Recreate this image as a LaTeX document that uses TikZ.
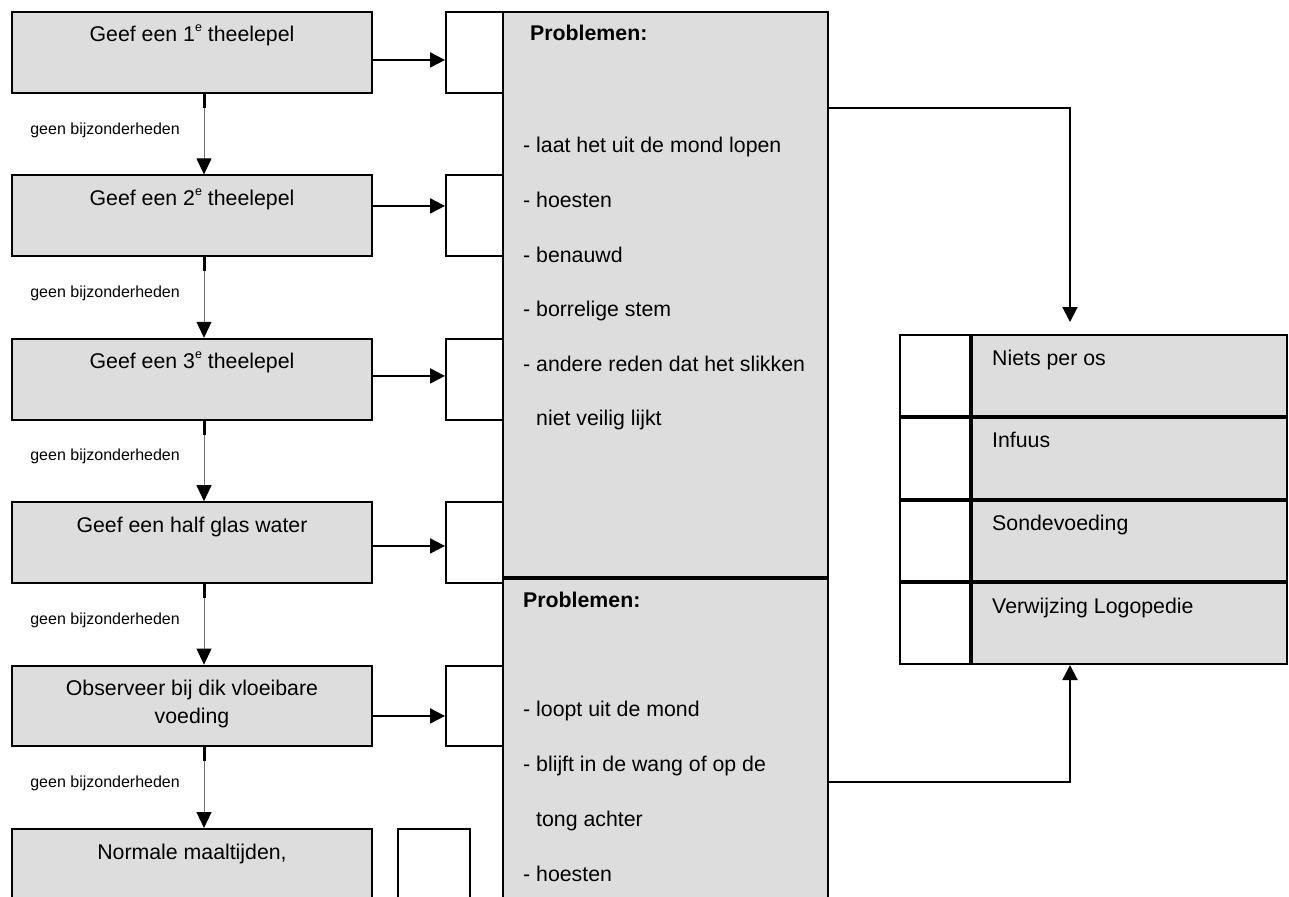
\documentclass[tikz,border=0pt]{standalone}
\usepackage{fontspec}
\setmainfont{Liberation Sans}
\usetikzlibrary{positioning,calc,arrows.meta}
\definecolor{vakgrijs}{RGB}{221,221,221}
\newcommand{\ste}{\raisebox{10pt}{\fontsize{12.5}{12}\selectfont e}}
\tikzstyle{stap} = [draw, line width=2pt, fill=vakgrijs, anchor=north west, inner sep=0pt, minimum width=360pt, minimum height=80.7pt]
\tikzstyle{vak} = [draw, line width=2pt, fill=white, inner sep=0pt, minimum width=59pt, minimum height=80.7pt]
\tikzstyle{probl} = [draw, line width=2pt, fill=vakgrijs, anchor=north west, inner sep=0pt, minimum width=325pt]
\tikzstyle{cel} = [draw, line width=2pt, fill=white, anchor=north west, inner sep=0pt, minimum width=70pt, minimum height=80.75pt]
\tikzstyle{optie} = [draw, line width=2pt, fill=vakgrijs, inner sep=0pt, minimum width=315pt, minimum height=80.75pt]
\tikzstyle{tekst} = [inner sep=0pt, font=\fontsize{21.3}{28}\selectfont]
\tikzstyle{klein} = [inner sep=0pt, anchor=base east, font=\fontsize{16}{19}\selectfont]
\tikzstyle{to} = [-{Triangle[length=15pt,width=15pt]}, line width=2pt]
\tikzstyle{dun} = [-{Triangle[length=16pt,width=15pt,color=black]}, line width=1pt, black!55]
\tikzstyle{stomp} = [line width=3pt]

\begin{document}
\begin{tikzpicture}[x=1pt, y=-1pt, node distance=80.7pt]
		\useasboundingbox (0,0) rectangle (1289,896);
		\clip (0,0) rectangle (1289,896);
		% stappen links
		\node (stap1) [stap] at (11,11) {};
		\node (stap2) [stap, below=of stap1] {};
		\node (stap3) [stap, below=of stap2] {};
		\node (stap4) [stap, below=of stap3] {};
		\node (stap5) [stap, below=of stap4] {};
		\node (stap6) [stap, below=of stap5, minimum height=120pt] {};
		\node (t1) [tekst, anchor=base] at ($(stap1.north)+(0,31)$) {Geef een 1\ste{} theelepel};
		\node (t2) [tekst, anchor=base] at ($(stap2.north)+(0,31)$) {Geef een 2\ste{} theelepel};
		\node (t3) [tekst, anchor=base] at ($(stap3.north)+(0,31)$) {Geef een 3\ste{} theelepel};
		\node (t4) [tekst, anchor=base] at ($(stap4.north)+(0,31)$) {Geef een half glas water};
		\node (t5) [tekst, anchor=north, align=center] at ($(stap5.north)+(0,15.5)$) {Observeer bij dik vloeibare\\voeding};
		\node (t6) [tekst, anchor=base] at ($(stap6.north)+(0,31)$) {Normale maaltijden,};
		% lege vakjes
		\node (vak1) [vak, right=72pt of stap1] {};
		\node (vak2) [vak, right=72pt of stap2] {};
		\node (vak3) [vak, right=72pt of stap3] {};
		\node (vak4) [vak, right=72pt of stap4] {};
		\node (vak5) [vak, right=72pt of stap5] {};
		\node (vak6) [vak, anchor=north west, minimum width=72pt, minimum height=120pt] at ($(stap6.north east)+(24,0)$) {};
		% problemen
		\node (probA) [probl, minimum height=565pt] at (502,11) {};
		\node (probB) [probl, below=0pt of probA, anchor=north, minimum height=406pt] {};
		\node (kopA) [tekst, anchor=base west] at (530,41) {\textbf{Problemen:}};
		\foreach \t/\y [count=\i] in {{- laat het uit de mond lopen}/153, {- hoesten}/207.5, {- benauwd}/262, {- borrelige stem}/316.5, {- andere reden dat het slikken}/371, {\hspace*{13pt}niet veilig lijkt}/425.5}
			\node (pa\i) [tekst, anchor=base west] at (523,\y) {\t};
		\node (kopB) [tekst, anchor=base west] at (523,607) {\textbf{Problemen:}};
		\foreach \t/\y [count=\i] in {{- loopt uit de mond}/716, {- blijft in de wang of op de}/771, {\hspace*{13pt}tong achter}/826, {- hoesten}/881}
			\node (pb\i) [tekst, anchor=base west] at (523,\y) {\t};
		% tabel rechts
		\node (leeg1) [cel] at (899,334) {};
		\node (leeg2) [cel, below=0pt of leeg1, anchor=north] {};
		\node (leeg3) [cel, below=0pt of leeg2, anchor=north] {};
		\node (leeg4) [cel, below=0pt of leeg3, anchor=north] {};
		\node (opt1) [optie, right=0pt of leeg1] {};
		\node (opt2) [optie, right=0pt of leeg2] {};
		\node (opt3) [optie, right=0pt of leeg3] {};
		\node (opt4) [optie, right=0pt of leeg4] {};
		\node (o1) [tekst, anchor=base west] at ($(opt1.north west)+(21,31)$) {Niets per os};
		\node (o2) [tekst, anchor=base west] at ($(opt2.north west)+(21,31)$) {Infuus};
		\node (o3) [tekst, anchor=base west] at ($(opt3.north west)+(21,31)$) {Sondevoeding};
		\node (o4) [tekst, anchor=base west] at ($(opt4.north west)+(21,31)$) {Verwijzing Logopedie};
		% pijlen
		\draw[to] ([yshift=-7.6pt]stap1.east) -- ([yshift=-7.6pt]vak1.west);
		\draw[to] ([yshift=9.8pt]stap2.east) -- ([yshift=9.8pt]vak2.west);
		\draw[to] ([yshift=3.2pt]stap3.east) -- ([yshift=3.2pt]vak3.west);
		\draw[to] ([yshift=-3.4pt]stap4.east) -- ([yshift=-3.4pt]vak4.west);
		\draw[to] ([yshift=-10pt]stap5.east) -- ([yshift=-10pt]vak5.west);
		\draw[dun] ([xshift=12pt]stap1.south) -- ([xshift=12pt]stap2.north);
		\draw[dun] ([xshift=12pt]stap2.south) -- ([xshift=12pt]stap3.north);
		\draw[dun] ([xshift=12pt]stap3.south) -- ([xshift=12pt]stap4.north);
		\draw[dun] ([xshift=12pt]stap4.south) -- ([xshift=12pt]stap5.north);
		\draw[dun] ([xshift=12pt]stap5.south) -- ([xshift=12pt]stap6.north);
		\draw[stomp] ([xshift=12pt]stap1.south) -- ++(0,14);
		\draw[stomp] ([xshift=12pt]stap2.south) -- ++(0,14);
		\draw[stomp] ([xshift=12pt]stap3.south) -- ++(0,14);
		\draw[stomp] ([xshift=12pt]stap4.south) -- ++(0,14);
		\draw[stomp] ([xshift=12pt]stap5.south) -- ++(0,14);
		\node (g1) [klein] at ($(stap1.south)!.5!(stap2.north)+(-12,0)$) {geen bijzonderheden};
		\node (g2) [klein] at ($(stap2.south)!.5!(stap3.north)+(-12,0)$) {geen bijzonderheden};
		\node (g3) [klein] at ($(stap3.south)!.5!(stap4.north)+(-12,0)$) {geen bijzonderheden};
		\node (g4) [klein] at ($(stap4.south)!.5!(stap5.north)+(-12,0)$) {geen bijzonderheden};
		\node (g5) [klein] at ($(stap5.south)!.5!(stap6.north)+(-12,0)$) {geen bijzonderheden};
		\draw[to, shorten >=12pt] ([yshift=186.5pt]probA.east) -| ([xshift=-59.5pt]opt1.north);
		\draw[to] (probB.east) -| ([xshift=-59.5pt]opt4.south);
\end{tikzpicture}
\end{document}
